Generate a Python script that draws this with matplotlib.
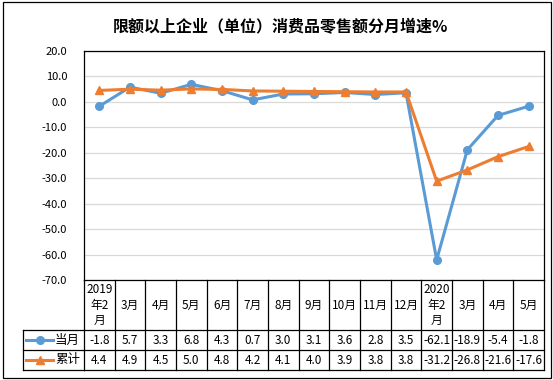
import numpy as np
import matplotlib
matplotlib.use("Agg")
import matplotlib.pyplot as plt
from matplotlib.lines import Line2D
from matplotlib.patches import Rectangle
from matplotlib.transforms import blended_transform_factory

plt.rcParams['font.family'] = ['Noto Sans CJK SC', 'DejaVu Sans']

# Chart data
title = "限额以上企业（单位）消费品零售额分月增速%"
months = ["2019\n年2\n月", "3月", "4月", "5月", "6月", "7月", "8月", "9月",
          "10月", "11月", "12月", "2020\n年2\n月", "3月", "4月", "5月"]
monthly = [-1.8, 5.7, 3.3, 6.8, 4.3, 0.7, 3.0, 3.1, 3.6, 2.8, 3.5, -62.1, -18.9, -5.4, -1.8]
cumulative = [4.4, 4.9, 4.5, 5.0, 4.8, 4.2, 4.1, 4.0, 3.9, 3.8, 3.8, -31.2, -26.8, -21.6, -17.6]
series_names = ["当月", "累计"]
yticks = np.arange(-70, 21, 10)

blue = "#5b9bd5"
orange = "#ed7d31"

W, H = 553, 380
fig = plt.figure(figsize=(W / 100, H / 100), dpi=100)


def fx(px):
    return px / W


def fy(py):
    return 1 - py / H


# plot area in pixel terms
left, right, top, bottom = 84, 544, 50.7, 280
ax = fig.add_axes([fx(left), fy(bottom), fx(right - left), (bottom - top) / H])

x = np.arange(len(months)) + 0.5
ax.plot(x, monthly, color=blue, lw=2.2, marker="o", ms=5.5, solid_capstyle="round", zorder=3)
ax.plot(x, cumulative, color=orange, lw=2.2, marker="^", ms=6, zorder=4)

ax.set_xlim(0, len(months))
ax.set_ylim(-70, 20)
ax.set_yticks(yticks)
ax.set_yticklabels([f"{v:.1f}" for v in yticks], fontsize=8)
ax.tick_params(axis="y", length=0, pad=12)
ax.set_xticks([])
ax.grid(axis="y", color="#d9d9d9", lw=0.9)
ax.set_axisbelow(True)
for s in ax.spines.values():
    s.set_color("black")
    s.set_linewidth(0.9)

fig.text(fx(280), fy(27), title, ha="center", va="center", fontsize=11.5, fontweight="bold")

# data table under the plot
tr = blended_transform_factory(ax.transData, fig.transFigure)
hdr_bot, row1_bot, row2_bot = 330, 350, 370
leg_left = 23

for i in range(len(months) + 1):
    ax.add_line(Line2D([i, i], [fy(bottom), fy(row2_bot)], transform=tr, color="black",
                       lw=0.9, clip_on=False))
for yy in (hdr_bot, row1_bot, row2_bot):
    fig.add_artist(Line2D([fx(leg_left), fx(left)], [fy(yy), fy(yy)], color="black", lw=0.9))
    ax.add_line(Line2D([0, len(months)], [fy(yy), fy(yy)], transform=tr, color="black",
                       lw=0.9, clip_on=False))
fig.add_artist(Line2D([fx(leg_left), fx(leg_left)], [fy(hdr_bot), fy(row2_bot)], color="black", lw=0.9))

for xi, lab in zip(x, months):
    ax.text(xi, fy((bottom + hdr_bot) / 2), lab, transform=tr, ha="center", va="center",
            fontsize=8.5, linespacing=1.25, clip_on=False)

for vals, yy in ((monthly, (hdr_bot + row1_bot) / 2), (cumulative, (row1_bot + row2_bot) / 2)):
    for xi, v in zip(x, vals):
        ax.text(xi, fy(yy), f"{v:.1f}", transform=tr, ha="center", va="center",
                fontsize=8.5, clip_on=False)

# legend keys inside the table
for name, col, mk, yy in ((series_names[0], blue, "o", (hdr_bot + row1_bot) / 2),
                          (series_names[1], orange, "^", (row1_bot + row2_bot) / 2)):
    fig.add_artist(Line2D([fx(26), fx(53)], [fy(yy), fy(yy)], color=col, lw=2.2))
    fig.add_artist(Line2D([fx(39.5)], [fy(yy)], color=col, marker=mk, ms=5.5, lw=0))
    fig.text(fx(55), fy(yy), name, ha="left", va="center", fontsize=9)

# outer chart border
fig.add_artist(Rectangle((fx(2.5), fy(377.5)), fx(548), (375.5) / H, fill=False,
                         edgecolor="black", lw=0.9))

fig.savefig("out.png", dpi=100)
